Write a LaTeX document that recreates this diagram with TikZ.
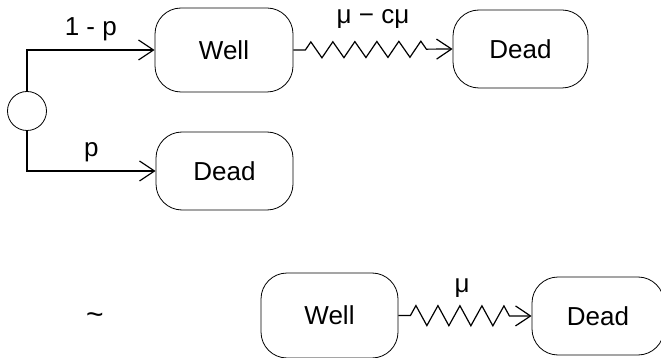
\documentclass[tikz,border=0pt]{standalone}
\usepackage{fontspec}
\setmainfont{Liberation Sans}
\usetikzlibrary{arrows.meta,decorations.pathmorphing}
\begin{document}
\begin{tikzpicture}[x=1pt,y=-1pt,
  state/.style={draw,line width=0.8pt,rounded corners=26pt,minimum width=137pt,minimum height=80pt,inner sep=0pt,font=\fontsize{26}{30}\selectfont},
  lbl/.style={inner sep=0pt,font=\fontsize{26}{30}\selectfont},
  conn/.style={line width=1.2pt,-{Straight Barb[length=15pt,width=20pt,line width=1.2pt]}},
  zig/.style={conn,decorate,decoration={zigzag,segment length=22pt,amplitude=#1,pre length=12pt,post length=20pt}}
]
\useasboundingbox (0,0) rectangle (661,358);
\node[state,minimum width=138pt,minimum height=84pt] (well1) at (224,50) {Well};
\node[state,minimum width=135pt,minimum height=78pt] (dead1) at (520.5,49) {Dead};
\node[state,minimum width=137pt,minimum height=78pt] (dead2) at (224.5,171) {Dead};
\node[state,minimum width=137pt,minimum height=85pt] (well2) at (329.5,315.5) {Well};
\node[state,minimum width=132pt,minimum height=78pt] (dead3) at (598,316) {Dead};
\node[draw,line width=0.8pt,circle,minimum size=39pt,inner sep=0pt] (c) at (27,111) {};
\draw[conn] (c.north) |- (well1.west) node[lbl,pos=0.75,above=9pt] (l1) {1 - p};
\draw[conn] (c.south) |- (dead2.west) node[lbl,pos=0.75,above=9pt] (l2) {p};
\draw[zig=8pt] (well1.east) -- (dead1.west);
\node[lbl] (l3) at (373,19) {μ − cμ};
\draw[zig=10pt] (well2.east) -- (dead3.west);
\node[lbl] (l4) at (462,288) {μ};
\node[lbl,font=\fontsize{30}{30}\selectfont] (tl) at (95,319) {\textasciitilde};
\end{tikzpicture}
\end{document}
